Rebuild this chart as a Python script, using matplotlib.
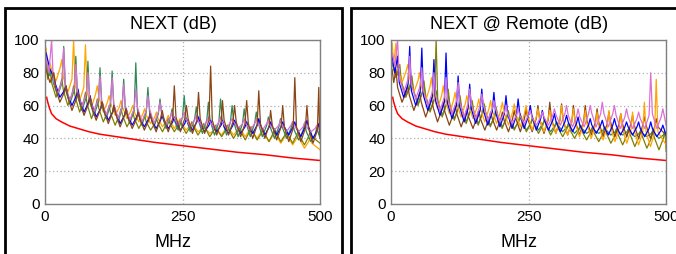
import matplotlib.pyplot as plt
from matplotlib.patches import Rectangle

plt.rcParams['font.family'] = ['Liberation Sans', 'DejaVu Sans']

# sweep frequencies (MHz); pairs resonate on slightly different spacings
freq_a = [2, 7,
          12, 15, 23, 31, 34, 37, 45, 53, 56, 59, 67, 75, 78, 81, 89, 97,
          100, 103, 111, 119, 122, 125, 133, 140, 143, 146, 154, 162,
          165, 168, 176, 184, 187, 190, 198, 206, 209, 212, 220, 228,
          231, 234, 242, 250, 253, 256, 264, 272, 275, 278, 286, 294,
          297, 300, 308, 316, 319, 322, 330, 337, 340, 343, 351, 359,
          362, 365, 373, 381, 384, 387, 395, 403, 406, 409, 417, 425,
          428, 431, 439, 447, 450, 453, 461, 469, 472, 475, 483, 491,
          494, 497, 500]
freq_b = [2, 5,
          9, 12, 20, 27.5, 30.5, 33.5, 41.5, 49, 52, 55, 63, 70.5,
          73.5, 76.5, 84.5, 92, 95, 98, 106, 113.5, 116.5, 119.5, 127.5, 135,
          138, 141, 149, 156.5, 159.5, 162.5, 170.5, 178, 181, 184, 192, 199.5,
          202.5, 205.5, 213.5, 221, 224, 227, 235, 242.5, 245.5, 248.5, 256.5, 264,
          267, 270, 278, 285.5, 288.5, 291.5, 299.5, 307, 310, 313, 321, 328.5,
          331.5, 334.5, 342.5, 350, 353, 356, 364, 371.5, 374.5, 377.5, 385.5, 393,
          396, 399, 407, 414.5, 417.5, 420.5, 428.5, 436, 439, 442, 450, 457.5,
          460.5, 463.5, 471.5, 479, 482, 485, 500]
freq_c = [2, 9,
          16, 19, 27, 35, 38, 41, 49, 57, 60, 63, 71, 79, 82, 85, 93, 101,
          104, 107, 115, 123, 125.5, 128.5, 136.5, 144.5, 147.5, 150.5, 158.5, 166.5,
          169.5, 172.5, 180.5, 188.5, 191, 194, 202, 210, 213, 216, 224, 232,
          235, 238, 246, 254, 257, 260, 268, 276, 279, 282, 290, 298,
          301, 304, 312, 320, 322.5, 325.5, 333.5, 341.5, 344.5, 347.5, 355.5, 363.5,
          366.5, 369.5, 377.5, 385.5, 388.5, 391.5, 399.5, 407.5, 410, 413, 421, 429,
          432, 435, 443, 451, 454, 457, 465, 473, 476, 479, 487, 495,
          497.5, 499, 500]

limit_freq = [3, 5, 8, 12, 20, 30, 45, 60, 80, 100, 130, 160, 200, 250, 300, 350, 400, 450, 500]
limit_db = [65, 62, 58.5, 55, 52, 50, 47.5, 46, 44, 42.5, 41, 39.5, 37.5, 35.5, 33.5, 31.5, 30, 28, 26.5]

# NEXT (local end)
near_orange = [95, 80,
               86, 82, 75, 83, 88, 77, 68, 76, 100, 72, 63, 71, 97, 68, 59, 67,
               72, 65, 56, 62, 66, 61, 54, 59, 63, 59, 52, 57, 60, 56, 50, 55,
               58, 54, 49, 53, 56, 52, 47, 51, 54, 51, 46, 50, 52, 49, 45, 48,
               50, 48, 44, 46, 48, 46, 43, 45, 47, 45, 42, 46, 48, 46, 42, 45,
               47, 45, 41, 45, 47, 44, 40, 44, 46, 43, 38, 42, 45, 42, 37, 41,
               44, 41, 36, 40, 43, 39, 34, 38, 41, 37, 33]
near_green = [88, 78,
              80, 74, 66, 74, 96, 70, 61, 69, 90, 66, 57, 65, 87, 63, 54, 62,
              83, 61, 52, 60, 81, 59, 50, 58, 76, 58, 49, 57, 86, 57, 48, 56,
              71, 56, 47, 55, 64, 55, 46, 53, 58, 52, 45, 53, 66, 53, 44, 52,
              59, 52, 43, 51, 62, 51, 42, 50, 64, 51, 42, 50, 60, 50, 41, 49,
              58, 50, 41, 49, 56, 50, 41, 48, 53, 47, 40, 47, 52, 47, 40, 46,
              50, 45, 39, 45, 49, 44, 38, 42, 47, 43, 40]
near_blue = [92, 82,
             78, 73, 65, 69, 72, 67, 60, 66, 70, 64, 56, 62, 66, 61, 53, 58,
             62, 58, 51, 56, 60, 56, 49, 54, 58, 54, 48, 53, 56, 52, 47, 52,
             55, 51, 46, 51, 54, 51, 46, 50, 53, 50, 45, 49, 52, 49, 45, 50,
             53, 49, 44, 48, 51, 48, 44, 48, 51, 47, 43, 48, 51, 48, 43, 47,
             50, 47, 43, 48, 52, 48, 42, 47, 50, 47, 42, 47, 50, 47, 42, 47,
             50, 46, 41, 47, 51, 47, 40, 45, 49, 45, 42]
near_olive = [85, 76,
              82, 74, 65, 72, 76, 69, 60, 67, 72, 65, 56, 63, 68, 61, 52, 59,
              64, 58, 50, 56, 60, 55, 48, 54, 58, 54, 47, 52, 56, 52, 46, 51,
              54, 50, 45, 49, 52, 49, 44, 49, 52, 49, 44, 48, 51, 48, 43, 47,
              50, 47, 42, 46, 49, 46, 41, 45, 48, 45, 41, 45, 48, 45, 40, 44,
              47, 44, 39, 44, 47, 44, 39, 43, 46, 43, 38, 43, 46, 43, 38, 42,
              45, 42, 37, 42, 45, 41, 36, 41, 44, 41, 37]
near_violet = [88, 80,
               100, 76, 67, 75, 95, 72, 63, 71, 85, 68, 59, 67, 80, 65, 56, 64,
               78, 63, 54, 62, 77, 61, 52, 59, 73, 60, 51, 58, 70, 59, 50, 57,
               66, 58, 49, 56, 62, 56, 48, 53, 56, 53, 48, 53, 56, 52, 47, 51,
               54, 51, 47, 50, 53, 50, 46, 50, 53, 50, 46, 50, 52, 50, 46, 49,
               52, 49, 45, 49, 52, 49, 45, 49, 51, 48, 45, 48, 51, 48, 44, 48,
               50, 48, 44, 47, 50, 47, 44, 46, 48, 46, 45]
near_brown = [82, 74,
              80, 71, 62, 68, 72, 66, 57, 64, 68, 62, 54, 61, 65, 59, 51, 58,
              62, 57, 49, 56, 60, 55, 47, 54, 58, 53, 46, 52, 56, 52, 45, 51,
              55, 51, 44, 52, 57, 52, 44, 52, 72, 53, 44, 52, 60, 52, 43, 51,
              68, 52, 43, 51, 84, 51, 42, 50, 63, 51, 42, 50, 60, 50, 41, 49,
              63, 49, 40, 48, 69, 49, 40, 48, 57, 48, 39, 47, 60, 47, 38, 46,
              77, 47, 38, 46, 60, 46, 37, 45, 71, 46, 40]

# NEXT @ Remote
far_orange = [98, 86,
              98, 83, 74, 81, 85, 77, 68, 75, 80, 72, 63, 71, 77, 67, 58, 66,
              72, 64, 55, 63, 68, 61, 53, 61, 66, 60, 52, 59, 64, 58, 50, 58,
              63, 57, 49, 57, 62, 56, 48, 56, 61, 55, 47, 55, 60, 54, 45, 53,
              58, 52, 44, 52, 57, 51, 43, 51, 60, 51, 42, 50, 58, 50, 41, 49,
              57, 49, 40, 48, 56, 48, 39, 47, 57, 47, 38, 46, 55, 46, 37, 45,
              56, 45, 36, 44, 62, 44, 35, 43, 76, 44, 36]
far_green = [86, 78,
             80, 74, 66, 71, 75, 69, 61, 68, 72, 66, 57, 64, 69, 63, 54, 61,
             66, 60, 52, 59, 63, 58, 50, 57, 61, 56, 49, 55, 59, 55, 48, 53,
             57, 53, 47, 52, 55, 51, 46, 50, 53, 50, 45, 49, 52, 49, 45, 49,
             51, 48, 44, 48, 50, 48, 44, 47, 49, 47, 43, 46, 48, 46, 43, 45,
             47, 45, 43, 45, 47, 45, 42, 44, 46, 44, 42, 44, 46, 44, 41, 43,
             45, 43, 41, 43, 45, 43, 40, 42, 44, 42, 41]
far_blue = [90, 80,
            90, 74, 65, 73, 96, 69, 60, 68, 95, 66, 57, 65, 88, 63, 54, 62,
            92, 61, 52, 60, 78, 59, 50, 58, 73, 58, 49, 57, 70, 57, 48, 56,
            68, 56, 47, 55, 66, 55, 46, 54, 64, 55, 46, 54, 60, 54, 45, 52,
            57, 52, 45, 51, 55, 50, 44, 50, 54, 50, 44, 49, 53, 48, 43, 48,
            52, 48, 43, 48, 51, 47, 42, 48, 52, 48, 42, 47, 50, 47, 42, 47,
            50, 46, 41, 46, 50, 46, 41, 45, 48, 45, 42]
far_olive = [86, 77,
             85, 74, 65, 73, 78, 69, 60, 68, 75, 65, 56, 64, 100, 62, 53, 61,
             70, 60, 51, 59, 66, 58, 49, 57, 63, 56, 48, 56, 61, 55, 47, 54,
             59, 54, 46, 53, 57, 52, 45, 51, 55, 51, 44, 49, 53, 49, 43, 48,
             52, 48, 42, 47, 50, 46, 41, 46, 49, 45, 40, 45, 48, 44, 39, 44,
             47, 43, 38, 43, 47, 43, 37, 42, 46, 42, 36, 42, 46, 42, 35, 41,
             45, 41, 34, 40, 44, 40, 33, 40, 44, 39, 32]
far_violet = [92, 84,
              100, 77, 68, 76, 90, 73, 64, 72, 83, 69, 60, 68, 80, 66, 57, 65,
              77, 64, 55, 63, 74, 62, 53, 61, 70, 61, 52, 60, 67, 60, 51, 58,
              63, 58, 50, 56, 60, 55, 49, 54, 58, 54, 49, 54, 57, 53, 48, 53,
              56, 53, 48, 54, 58, 54, 48, 55, 60, 54, 47, 53, 58, 53, 47, 55,
              60, 55, 47, 55, 62, 55, 47, 55, 60, 54, 46, 53, 58, 53, 46, 52,
              56, 52, 46, 54, 80, 55, 46, 53, 58, 53, 48]
far_brown = [82, 74,
             82, 71, 62, 68, 72, 66, 57, 64, 68, 62, 53, 60, 65, 59, 50, 57,
             62, 56, 48, 55, 60, 55, 47, 54, 58, 53, 46, 53, 57, 52, 45, 52,
             56, 52, 45, 52, 56, 51, 44, 52, 57, 52, 44, 52, 58, 52, 44, 52,
             60, 52, 43, 51, 62, 52, 43, 51, 61, 51, 42, 50, 60, 51, 42, 50,
             60, 51, 42, 50, 58, 50, 41, 49, 56, 50, 41, 49, 55, 49, 41, 49,
             54, 48, 40, 48, 53, 48, 40, 47, 52, 47, 42]

colors = {'orange': '#FFA500', 'green': '#2E8B57', 'blue': '#0000FF',
          'olive': '#808000', 'violet': '#DA70D6', 'brown': '#8B4513'}


def draw_panel(fig, frame_left, axes_left, title, traces):
    # black frame around the whole panel
    fig.add_artist(Rectangle((frame_left, -0.1), 337 / 676, 1.0685, transform=fig.transFigure,
                             fill=False, edgecolor='black', linewidth=2, clip_on=False))
    center = frame_left + 337 / 676 / 2
    fig.text(center, 0.905, title, ha='center', va='center', fontsize=13)
    fig.text(center, 0.045, 'MHz', ha='center', va='center', fontsize=13)

    ax = fig.add_axes([axes_left, 0.197, 0.407, 0.646])
    for name, x, values in traces:
        ax.plot(x, values, color=colors[name], linewidth=0.9)
    ax.plot(limit_freq, limit_db, color='#FF0000', linewidth=1.1)

    ax.set_xlim(0, 500)
    ax.set_ylim(0, 100)
    ax.set_xticks([0, 250, 500])
    ax.set_yticks([0, 20, 40, 60, 80, 100])
    ax.tick_params(length=0, labelsize=11, pad=4)
    ax.grid(True, color='#B0B0B0', linestyle=(0, (1, 2)), linewidth=0.9)
    for spine in ax.spines.values():
        spine.set_color('#808080')
        spine.set_linewidth(1.0)
    return ax


fig = plt.figure(figsize=(6.76, 2.54), dpi=100)

draw_panel(fig, 5 / 676, 45 / 676, 'NEXT (dB)',
           [('orange', freq_b, near_orange), ('olive', freq_b, near_olive),
            ('green', freq_a, near_green), ('blue', freq_c, near_blue),
            ('violet', freq_a, near_violet), ('brown', freq_c, near_brown)])
draw_panel(fig, 351 / 676, 391 / 676, 'NEXT @ Remote (dB)',
           [('green', freq_c, far_green), ('olive', freq_c, far_olive),
            ('brown', freq_b, far_brown), ('orange', freq_b, far_orange),
            ('blue', freq_a, far_blue), ('violet', freq_a, far_violet)])

fig.savefig('out.png', dpi=100)
